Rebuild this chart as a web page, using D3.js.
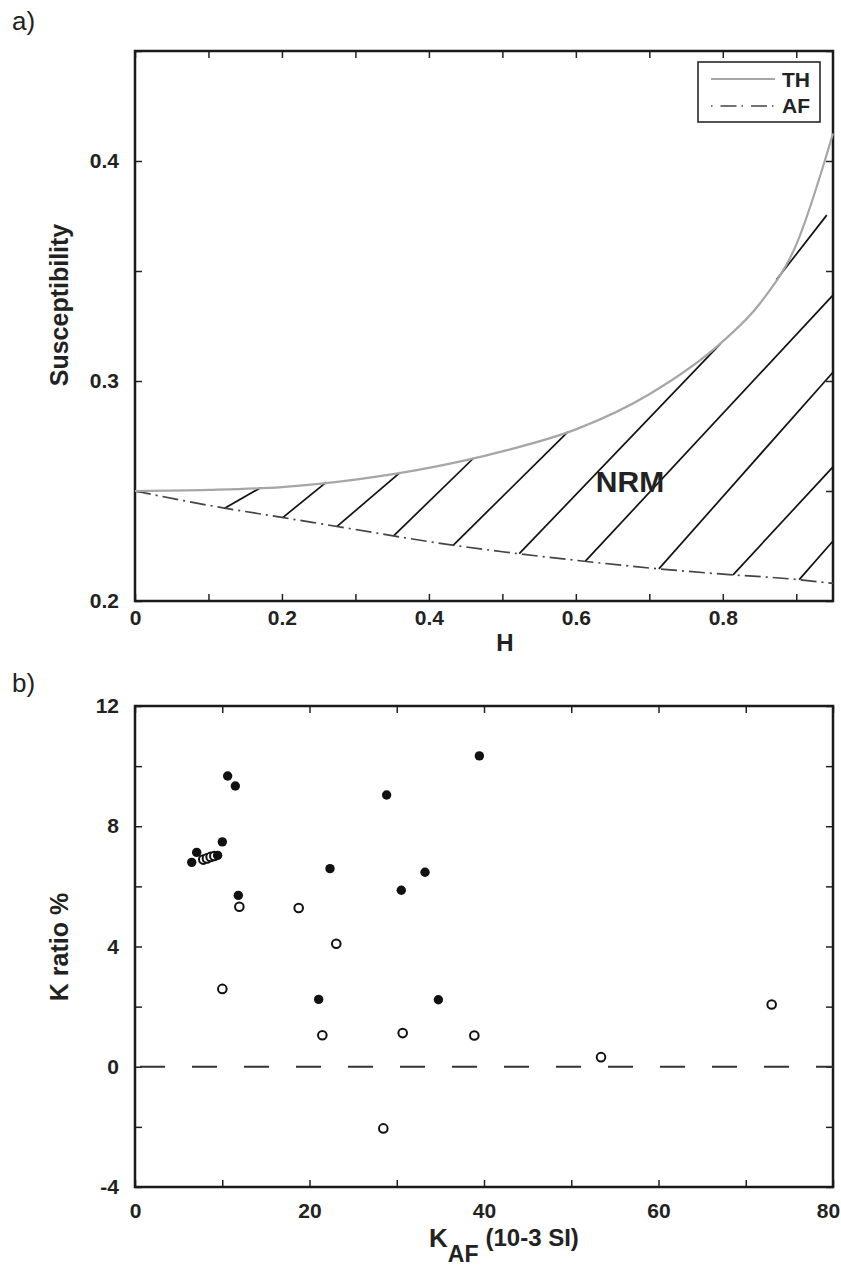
<!DOCTYPE html>
<html>
<head>
<meta charset="utf-8">
<script src="https://cdn.jsdelivr.net/npm/d3@7/dist/d3.min.js"></script>
<style>
  html, body { margin: 0; padding: 0; background: #fff; }
  svg { display: block; font-family: "Liberation Sans", Arial, sans-serif; }
  .tick text { font-family: "Liberation Sans", Arial, sans-serif; font-weight: bold; font-size: 21px; fill: #222; }
  .tick line { stroke: #222; stroke-width: 1.5; }
</style>
</head>
<body>
<svg id="chart" width="841" height="1270"></svg>
<script>
// ---- panel a) : susceptibility vs H
const thH = [0, 0.1, 0.2, 0.3, 0.4, 0.5, 0.6, 0.7, 0.8, 0.85, 0.9, 0.95];
const thS = [0.25, 0.2505, 0.2518, 0.2552, 0.2605, 0.268, 0.278, 0.294, 0.318, 0.335, 0.362, 0.4125];
const afH = [0, 0.1, 0.2, 0.3, 0.4, 0.5, 0.6, 0.7, 0.8, 0.9, 0.95];
const afS = [0.25, 0.2435, 0.238, 0.2325, 0.227, 0.2224, 0.2185, 0.215, 0.2122, 0.2098, 0.208];

// hatch segments (start -> end), in data units
const hatchH0 = [0.122, 0.201, 0.275, 0.352, 0.433, 0.523, 0.613, 0.713, 0.814, 0.904, 0.873];
const hatchS0 = [0.2422, 0.2379, 0.2339, 0.2296, 0.2253, 0.2215, 0.2181, 0.2146, 0.2119, 0.2097, 0.346];
const hatchH1 = [0.171, 0.2605, 0.361, 0.461, 0.5895, 0.797, 0.95, 0.95, 0.95, 0.95, 0.9415];
const hatchS1 = [0.2515, 0.254, 0.2585, 0.265, 0.277, 0.317, 0.339, 0.304, 0.261, 0.2273, 0.3754];

const hTicks = [0, 0.1, 0.2, 0.3, 0.4, 0.5, 0.6, 0.7, 0.8, 0.9];
const hLabels = [0, 0.2, 0.4, 0.6, 0.8];
const sTicks = [0.2, 0.25, 0.3, 0.35, 0.4, 0.45];
const sLabels = [0.2, 0.3, 0.4];

// ---- panel b) : K ratio vs K_AF
const filledK = [6.5, 7.07, 9.47, 10.01, 10.62, 11.5, 11.84, 21.05, 22.35, 28.84, 30.52, 33.24, 34.77, 39.47];
const filledR = [6.8, 7.13, 7.03, 7.48, 9.67, 9.34, 5.7, 2.24, 6.59, 9.04, 5.87, 6.47, 2.23, 10.34];
const openK = [7.83, 8.25, 8.67, 9.09, 10.01, 11.96, 18.76, 21.47, 23.07, 28.46, 30.68, 38.89, 53.41, 72.97];
const openR = [6.89, 6.93, 6.98, 7.01, 2.59, 5.32, 5.28, 1.05, 4.09, -2.05, 1.12, 1.04, 0.32, 2.07];

const kTicks = [0, 10, 20, 30, 40, 50, 60, 70, 80];
const kLabels = [0, 20, 40, 60, 80];
const rTicks = [-4, -2, 0, 2, 4, 6, 8, 10, 12];
const rLabels = [-4, 0, 4, 8, 12];

const svg = d3.select('#chart');

const xa = d3.scaleLinear().domain([0, 0.95]).range([135, 833]);
const ya = d3.scaleLinear().domain([0.2, 0.45]).range([601, 51]);
const xb = d3.scaleLinear().domain([0, 80]).range([135, 833]);
const yb = d3.scaleLinear().domain([-4, 12]).range([1187, 706]);

function frame(x, y, xt, xl, yt, yl, fmtX, fmtY, padX) {
    const g = svg.append('g');
    const x0 = x.range()[0], x1 = x.range()[1];
    const y0 = y.range()[0], y1 = y.range()[1];
    const lab = (set, f) => d => set.some(v => Math.abs(v - d) < 1e-9) ? f(d) : '';

    const bx = g.append('g').attr('transform', `translate(0,${y0})`)
        .call(d3.axisBottom(x).tickValues(xt).tickSizeInner(-7).tickSizeOuter(0)
            .tickPadding(padX).tickFormat(lab(xl, fmtX)));
    g.append('g').attr('transform', `translate(0,${y1})`)
        .call(d3.axisTop(x).tickValues(xt).tickSizeInner(-7).tickSizeOuter(0).tickFormat(''));
    g.append('g').attr('transform', `translate(${x0},0)`)
        .call(d3.axisLeft(y).tickValues(yt).tickSizeInner(-7).tickSizeOuter(0)
            .tickPadding(16).tickFormat(lab(yl, fmtY)));
    g.append('g').attr('transform', `translate(${x1},0)`)
        .call(d3.axisRight(y).tickValues(yt).tickSizeInner(-7).tickSizeOuter(0).tickFormat(''));
    g.selectAll('.domain').remove();

    g.append('rect')
        .attr('x', x0).attr('y', y1)
        .attr('width', x1 - x0).attr('height', y0 - y1)
        .attr('fill', 'none').attr('stroke', '#1a1a1a').attr('stroke-width', 2.5);
    return bx;
}

// ---------- panel a
const fmtH = d => d === 0 ? '0' : d3.format('.1f')(d);
frame(xa, ya, hTicks, hLabels, sTicks, sLabels, fmtH, d3.format('.1f'), 9);

const lineA = d3.line().x(d => xa(d[0])).y(d => ya(d[1])).curve(d3.curveMonotoneX);

// hatching
svg.append('g').selectAll('line')
    .data(d3.range(hatchH0.length))
    .join('line')
    .attr('x1', i => xa(hatchH0[i])).attr('y1', i => ya(hatchS0[i]))
    .attr('x2', i => xa(hatchH1[i])).attr('y2', i => ya(hatchS1[i]))
    .attr('stroke', '#111').attr('stroke-width', 1.7);

svg.append('path')
    .datum(d3.zip(afH, afS))
    .attr('d', lineA)
    .attr('fill', 'none').attr('stroke', '#444').attr('stroke-width', 1.7)
    .attr('stroke-dasharray', '16,5,2,5');

svg.append('path')
    .datum(d3.zip(thH, thS))
    .attr('d', lineA)
    .attr('fill', 'none').attr('stroke', '#a6a6a6').attr('stroke-width', 2.2);

svg.append('text').attr('x', 630).attr('y', 492)
    .attr('text-anchor', 'middle').attr('font-weight', 'bold').attr('font-size', 30)
    .attr('fill', '#222').text('NRM');

// legend
const leg = svg.append('g');
leg.append('rect').attr('x', 698).attr('y', 62).attr('width', 122).attr('height', 60)
    .attr('fill', '#fff').attr('stroke', '#1a1a1a').attr('stroke-width', 1.5);
leg.append('line').attr('x1', 711).attr('x2', 775).attr('y1', 79).attr('y2', 79)
    .attr('stroke', '#a6a6a6').attr('stroke-width', 2.2);
leg.append('line').attr('x1', 711).attr('x2', 775).attr('y1', 106).attr('y2', 106)
    .attr('stroke', '#444').attr('stroke-width', 1.7).attr('stroke-dasharray', '1.5,8,16,5');
leg.append('text').attr('x', 782).attr('y', 87).attr('font-weight', 'bold').attr('font-size', 21)
    .attr('fill', '#222').text('TH');
leg.append('text').attr('x', 782).attr('y', 113).attr('font-weight', 'bold').attr('font-size', 21)
    .attr('fill', '#222').text('AF');

svg.append('text').attr('x', 505).attr('y', 651)
    .attr('text-anchor', 'middle').attr('font-weight', 'bold').attr('font-size', 24)
    .attr('fill', '#222').text('H');
svg.append('text').attr('transform', 'translate(68,305) rotate(-90)')
    .attr('text-anchor', 'middle').attr('font-weight', 'bold').attr('font-size', 25)
    .attr('fill', '#222').text('Susceptibility');

svg.append('text').attr('x', 12).attr('y', 30).attr('font-size', 26).attr('fill', '#222').text('a)');
svg.append('text').attr('x', 12).attr('y', 692).attr('font-size', 26).attr('fill', '#222').text('b)');

// ---------- panel b
const bAxis = frame(xb, yb, kTicks, kLabels, rTicks, rLabels, String, String, 16);
// last label sits a little left of its tick so it stays inside the page
bAxis.selectAll('.tick text').filter(d => d === 80).attr('dx', -5);

svg.append('line')
    .attr('x1', xb(0) + 5).attr('x2', xb(80))
    .attr('y1', yb(0)).attr('y2', yb(0))
    .attr('stroke', '#333').attr('stroke-width', 2).attr('stroke-dasharray', '25,27');

svg.append('g').selectAll('circle')
    .data(d3.zip(openK, openR))
    .join('circle')
    .attr('cx', d => xb(d[0])).attr('cy', d => yb(d[1])).attr('r', 4.3)
    .attr('fill', '#fff').attr('stroke', '#111').attr('stroke-width', 2);

svg.append('g').selectAll('circle')
    .data(d3.zip(filledK, filledR))
    .join('circle')
    .attr('cx', d => xb(d[0])).attr('cy', d => yb(d[1])).attr('r', 4.7)
    .attr('fill', '#111');

svg.append('text').attr('transform', 'translate(68,947) rotate(-90)')
    .attr('text-anchor', 'middle').attr('font-weight', 'bold').attr('font-size', 25)
    .attr('fill', '#222').text('K ratio %');

const xl = svg.append('text').attr('x', 429).attr('y', 1247)
    .attr('font-weight', 'bold').attr('fill', '#222');
xl.append('tspan').attr('font-size', 26).text('K');
xl.append('tspan').attr('font-size', 23).attr('dy', 15).text('AF');
xl.append('tspan').attr('font-size', 24).attr('dy', -16).attr('dx', 7).text('(10-3 SI)');
</script>
</body>
</html>
